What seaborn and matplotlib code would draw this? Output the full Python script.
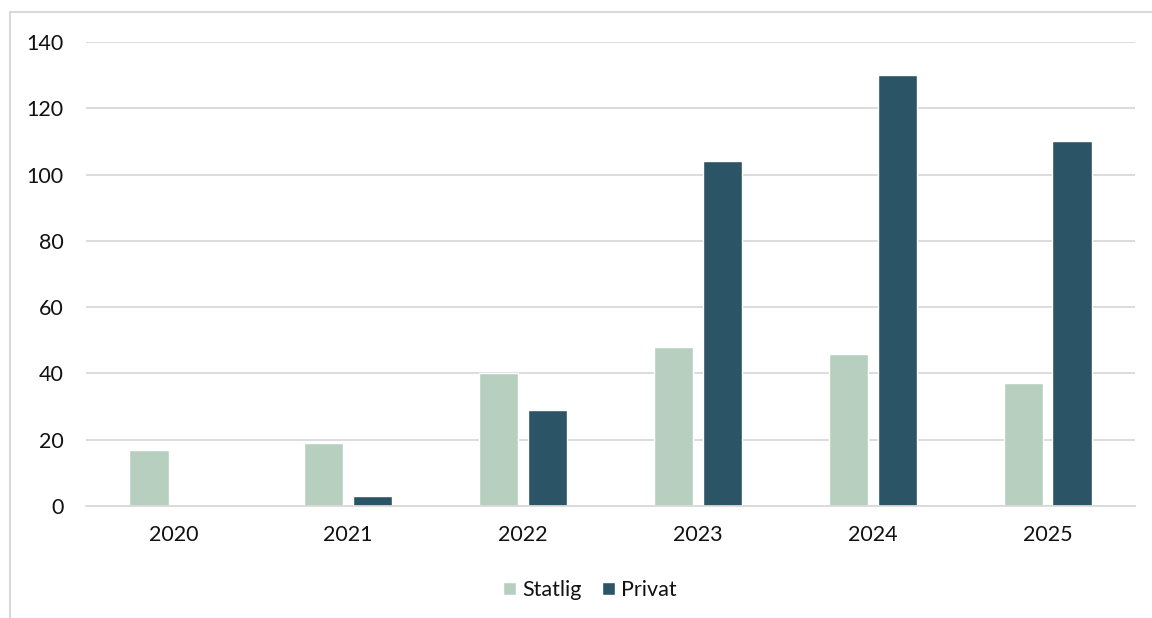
import matplotlib
matplotlib.use("Agg")
import matplotlib.pyplot as plt
import seaborn as sns
import pandas as pd
from matplotlib.patches import Rectangle

years = ["2020", "2021", "2022", "2023", "2024", "2025"]
statlig = [17, 19, 40, 48, 46, 37]
privat = [0, 3, 29, 104, 130, 110]
series_names = ["Statlig", "Privat"]
colors = ["#b6cfbf", "#2b5566"]
yticks = [0, 20, 40, 60, 80, 100, 120, 140]

df = pd.DataFrame({
    "year": years * 2,
    "value": statlig + privat,
    "series": [series_names[0]] * len(years) + [series_names[1]] * len(years),
})

sns.set_theme(style="white")
plt.rcParams["font.family"] = ["Lato", "DejaVu Sans"]

fig = plt.figure(figsize=(11.52, 6.18), dpi=100)
ax = fig.add_axes([86 / 1152, 1 - 506 / 618, (1135 - 86) / 1152, (506 - 42) / 618])

sns.barplot(data=df, x="year", y="value", hue="series", palette=colors,
            width=0.56, gap=0.2, ax=ax, legend=False, saturation=1)

ax.set_ylim(0, 140)
ax.set_xlim(-0.5, len(years) - 0.5)
ax.set_yticks(yticks)
ax.set_yticklabels([str(t) for t in yticks])
ax.yaxis.grid(True, color="#d9d9d9", linewidth=1.3)
ax.set_axisbelow(True)
for s in ["left", "right", "top"]:
    ax.spines[s].set_visible(False)
ax.spines["bottom"].set_color("#d9d9d9")
ax.spines["bottom"].set_linewidth(1.3)
ax.tick_params(axis="both", length=0, labelsize=15.5, colors="#111111")
ax.tick_params(axis="y", pad=16)
ax.tick_params(axis="x", pad=14)
ax.set_xlabel("")
ax.set_ylabel("")

handles = [Rectangle((0, 0), 1, 1, facecolor=c) for c in colors]
fig.legend(handles, series_names, loc="center", bbox_to_anchor=(590 / 1152, 1 - 590 / 618),
           ncol=2, frameon=False, fontsize=15.5, handlelength=0.6, handleheight=0.6,
           handletextpad=0.3, columnspacing=0.95, labelcolor="#111111")

frame = Rectangle((10 / 1152, -0.1), 1.2, 1 - 12 / 618 + 0.1, transform=fig.transFigure,
                  fill=False, edgecolor="#d9d9d9", linewidth=1.5)
fig.patches.append(frame)

fig.savefig("out.png", dpi=100)
